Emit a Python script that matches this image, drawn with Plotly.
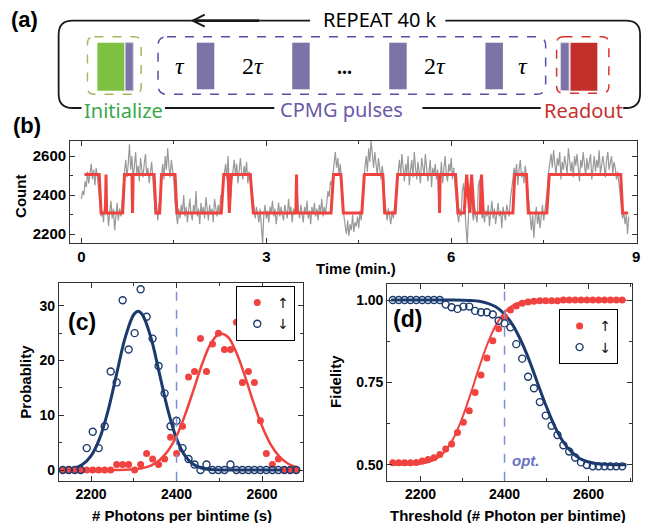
import plotly.graph_objects as go

W, H = 657, 523

# ---------------- data ----------------
# (b) photon-count time trace (gray), sampled every 0.02 min
sample_step_min = 0.02
gray_counts = [
    2380, 2420, 2400, 2470, 2440, 2520, 2460, 2510, 2560, 2480, 2530, 2450, 2540, 2490, 2430,
    2350, 2290, 2320, 2260, 2380, 2300, 2340, 2240, 2310, 2370, 2280, 2330, 2220, 2300, 2360, 2270, 2330, 2290, 2380,
    2450, 2520, 2580, 2490, 2560, 2660, 2530, 2600, 2480, 2570, 2620, 2510, 2550, 2470, 2590, 2530, 2490, 2560, 2610,
    2500, 2540, 2460, 2520, 2570, 2480,
    2370, 2300, 2340, 2270, 2360, 2320,
    2500, 2560, 2480, 2600, 2530, 2640, 2550, 2490, 2580, 2520, 2470,
    2360, 2300, 2250, 2330, 2280, 2350, 2310, 2400, 2290, 2340, 2260, 2320, 2380, 2300, 2270, 2350, 2310, 2420, 2290,
    2330, 2250, 2360, 2300, 2340, 2280, 2390, 2310, 2270, 2350, 2300, 2330, 2260, 2380, 2320, 2290, 2350, 2310, 2400,
    2340,
    2460, 2520, 2560, 2480, 2600, 2420, 2380, 2470, 2540, 2580, 2500, 2560, 2460, 2530, 2590, 2510, 2480, 2550, 2500,
    2570, 2460, 2520, 2490, 2440,
    2380, 2320, 2280, 2340, 2300, 2260, 2330,
    2200, 2150,
    2300, 2350, 2280, 2320, 2260, 2340, 2310, 2370, 2290, 2330, 2250, 2320, 2360, 2290, 2340, 2300, 2270, 2350, 2320,
    2280, 2380, 2310, 2340, 2260, 2330, 2300, 2360,
    2420,
    2330, 2280, 2350, 2310, 2260, 2340, 2300, 2370, 2280, 2320, 2250, 2340, 2300, 2360, 2290, 2330, 2270, 2350, 2310,
    2380, 2290, 2340, 2300, 2360, 2420, 2390, 2470, 2450,
    2520, 2580, 2620, 2540, 2590, 2500, 2560, 2470,
    2350, 2290, 2240, 2200, 2270, 2190, 2250, 2220, 2300, 2210, 2260, 2240, 2290, 2230, 2320, 2270, 2380,
    2480, 2540, 2600, 2520, 2640, 2570, 2680, 2600, 2540, 2620, 2560, 2500, 2590, 2530, 2480, 2550, 2500,
    2380, 2310, 2270, 2330, 2290, 2250, 2320, 2280, 2340, 2400,
    2460, 2520, 2580, 2500, 2610, 2540, 2470, 2560, 2510, 2600, 2450, 2530, 2580, 2490, 2620, 2540, 2480, 2570, 2520,
    2460, 2590, 2530, 2500, 2610, 2550, 2470, 2520, 2580, 2440, 2540, 2500, 2560, 2480, 2530,
    2360,
    2500, 2570, 2460, 2540, 2600, 2510, 2470, 2560, 2520, 2590, 2480, 2540, 2450,
    2380, 2300, 2260, 2330, 2290, 2420, 2460, 2300, 2230, 2150, 2300, 2440, 2470, 2310, 2270, 2330, 2290, 2260, 2450,
    2480, 2340, 2280, 2310,
    2260, 2320, 2290, 2350, 2240, 2310, 2370, 2280, 2330, 2250, 2300, 2360, 2290, 2320, 2230, 2340, 2300, 2270, 2350,
    2310, 2290, 2380, 2420,
    2480, 2540, 2500, 2560, 2450, 2530, 2580, 2490, 2520, 2460, 2550, 2500, 2430,
    2330, 2260, 2220, 2300, 2180, 2280, 2340, 2250, 2310, 2230, 2290, 2350, 2270, 2320, 2380, 2430,
    2520, 2580, 2610, 2540, 2630, 2560, 2500, 2590, 2550, 2620, 2480, 2570, 2530, 2600, 2560, 2510, 2640, 2580, 2520,
    2570, 2490, 2600, 2550, 2610, 2530, 2470, 2580, 2540, 2620, 2560,
    2500, 2590, 2530, 2570, 2610, 2480, 2550, 2600, 2520, 2580, 2540, 2630, 2510, 2570, 2600, 2550, 2490, 2580, 2620,
    2530, 2560, 2600, 2510, 2570, 2540, 2480, 2520, 2460, 2430,
    2340, 2280, 2310, 2250, 2300, 2200, 2290,
]
gray_time = [i * sample_step_min for i in range(len(gray_counts))]

# (b) two-level state assignment (red)
HI, LO = 2505, 2308
red_time = [0.05, 0.29, 0.32, 0.39, 0.40, 0.41, 0.67, 0.70, 0.82, 0.83, 0.84, 1.18, 1.21, 1.27, 1.30,
            1.52, 1.55, 2.27, 2.31, 2.38, 2.40, 2.43, 2.74, 2.79, 3.48, 3.49, 3.50, 4.05, 4.09, 4.21,
            4.25, 4.55, 4.59, 4.89, 4.92, 5.09, 5.13, 5.80, 5.81, 5.82, 6.07, 6.11, 6.21, 6.25, 6.30,
            6.33, 6.37, 6.47, 6.49, 6.52, 7.00, 7.03, 7.22, 7.25, 7.55, 7.59, 8.75, 8.78, 8.87]
red_level = [HI, HI, LO, LO, HI, LO, LO, HI, HI, LO, HI, HI, LO, LO, HI,
             HI, LO, LO, HI, HI, LO, HI, HI, LO, LO, HI, LO, LO, HI, HI,
             LO, LO, HI, HI, LO, LO, HI, HI, LO, HI, HI, LO, LO, HI, LO,
             HI, LO, LO, HI, LO, LO, HI, HI, LO, LO, HI, HI, LO, LO]

# (c) histograms
bins = [2134, 2148, 2162, 2176, 2190, 2204, 2218, 2232, 2246, 2260, 2274, 2288, 2302, 2316, 2330,
        2344, 2358, 2372, 2386, 2400, 2414, 2428, 2442, 2456, 2470, 2484, 2498, 2512, 2526, 2540,
        2554, 2568, 2582, 2596, 2610, 2624, 2638, 2652, 2666, 2680]
prob_up = [0, 0, 0, 0, 0, 0, 0, 0, 0, 1, 1, 1, 0, 1, 3, 2, 1, 2, 6, 3,
           8, 17, 18, 24, 18, 23, 25, 22, 22, 27, 16, 18, 16, 9, 3, 1, 2, 0, 0, 0]
prob_down = [0, 0, 0, 0, 4, 7, 4, 8, 18, 16, 31, 22, 25, 33, 28, 24, 19, 14, 8, 9,
             4, 2, 1, 0, 1, 0, 0, 0, 1, 0, 0, 0, 0, 0, 0, 0, 0, 0, 0, 0]
fit_c_x = [2134, 2160, 2180, 2200, 2220, 2240, 2260, 2280, 2300, 2310, 2320, 2340, 2360, 2380, 2400,
           2420, 2440, 2460, 2480, 2500, 2520, 2540, 2560, 2580, 2600, 2620, 2640, 2660, 2680]
fit_c_down = [0.06, 0.32, 0.99, 2.58, 5.74, 10.9, 17.6, 24.2, 28.4, 29.0, 28.4, 24.2, 17.6, 10.9, 5.74,
              2.58, 0.99, 0.32, 0.09, 0.02, 0, 0, 0, 0, 0, 0, 0, 0, 0]
fit_c_up = [0, 0, 0, 0, 0, 0, 0.01, 0.04, 0.13, 0.21, 0.34, 0.81, 1.77, 3.5, 6.2,
            10.1, 14.7, 19.4, 23.1, 24.9, 24.3, 21.4, 17.1, 12.3, 8.0, 4.7, 2.5, 1.2, 0.53]

# (d) fidelity vs threshold
fid_up = [0.506, 0.506, 0.506, 0.506, 0.507, 0.511, 0.516, 0.521, 0.531, 0.548, 0.563, 0.598, 0.629,
          0.664, 0.719, 0.772, 0.824, 0.876, 0.913, 0.949, 0.970, 0.982, 0.990, 0.994, 0.996, 0.998,
          0.998, 0.998, 0.998, 1.0, 1.0, 1.0, 1.0, 1.0, 1.0, 1.0, 1.0, 1.0, 1.0, 1.0]
fid_down = [1.0, 1.0, 1.0, 1.0, 1.0, 1.0, 1.0, 1.0, 1.0, 0.986, 0.978, 0.973, 0.980, 0.980, 0.967,
            0.963, 0.963, 0.956, 0.937, 0.929, 0.917, 0.866, 0.822, 0.767, 0.732, 0.690, 0.649, 0.618,
            0.590, 0.559, 0.540, 0.522, 0.507, 0.499, 0.495, 0.495, 0.495, 0.495, 0.495, 0.495]
fit_d_x = [2130, 2200, 2220, 2240, 2260, 2280, 2300, 2320, 2340, 2360, 2380, 2400, 2420, 2440, 2460,
           2480, 2500, 2520, 2540, 2560, 2580, 2600, 2620, 2640, 2660, 2690]
fit_d_up = [0.500, 0.503, 0.508, 0.520, 0.543, 0.584, 0.644, 0.718, 0.797, 0.869, 0.925, 0.962, 0.984,
            0.994, 0.998, 0.999, 1.0, 1.0, 1.0, 1.0, 1.0, 1.0, 1.0, 1.0, 1.0, 1.0]
fit_d_down = [1.0, 1.0, 1.0, 1.0, 1.0, 1.0, 0.9995, 0.9985, 0.996, 0.990, 0.979, 0.957, 0.923, 0.874,
              0.813, 0.743, 0.675, 0.615, 0.569, 0.538, 0.518, 0.508, 0.503, 0.501, 0.500, 0.500]
threshold = 2400
label_up = "↑\ufe0e"
label_down = "↓\ufe0e"

# ---------------- styling ----------------
RED = "#f0433f"
BLUE = "#1b3a6e"
DASH = "#7f8ed6"
SANS = "Liberation Sans, Arial, sans-serif"


def px(x):
    return x / W


def py(y):
    return 1 - y / H


def axis(domain, rng, anchor, tsize=14, **kw):
    d = dict(domain=domain, range=rng, anchor=anchor, showline=True, linecolor="#333",
             linewidth=1.3, mirror="allticks", ticks="inside", ticklen=5, tickwidth=1.2,
             tickcolor="#333", showgrid=False, zeroline=False,
             tickfont=dict(family=SANS, size=tsize, color="black", weight="bold"))
    d.update(kw)
    return d


def minor(dt):
    return dict(ticks="inside", ticklen=3, tickwidth=1, tickcolor="#333", dtick=dt, showgrid=False)


fig = go.Figure()

# (b)
fig.add_trace(go.Scatter(x=gray_time, y=gray_counts, mode="lines", line=dict(color="#999999", width=1.2),
                         showlegend=False, xaxis="x", yaxis="y"))
fig.add_trace(go.Scatter(x=red_time, y=red_level, mode="lines", line=dict(color=RED, width=3),
                         showlegend=False, xaxis="x", yaxis="y"))

# (c)
fig.add_trace(go.Scatter(x=fit_c_x, y=fit_c_down, mode="lines", line=dict(color=BLUE, width=3, shape="spline"),
                         showlegend=False, xaxis="x2", yaxis="y2"))
fig.add_trace(go.Scatter(x=fit_c_x, y=fit_c_up, mode="lines", line=dict(color=RED, width=2.5, shape="spline"),
                         showlegend=False, xaxis="x2", yaxis="y2"))
fig.add_trace(go.Scatter(x=bins, y=prob_up, mode="markers", name=label_up,
                         marker=dict(color=RED, size=7, line=dict(width=0)),
                         legend="legend", xaxis="x2", yaxis="y2"))
fig.add_trace(go.Scatter(x=bins, y=prob_down, mode="markers", name=label_down,
                         marker=dict(symbol="circle-open", color=BLUE, size=7, line=dict(width=1.4)),
                         legend="legend", xaxis="x2", yaxis="y2"))

# (d)
fig.add_trace(go.Scatter(x=fit_d_x, y=fit_d_up, mode="lines", line=dict(color=RED, width=2, shape="spline"),
                         showlegend=False, xaxis="x3", yaxis="y3"))
fig.add_trace(go.Scatter(x=fit_d_x, y=fit_d_down, mode="lines", line=dict(color=BLUE, width=3, shape="spline"),
                         showlegend=False, xaxis="x3", yaxis="y3"))
fig.add_trace(go.Scatter(x=bins, y=fid_up, mode="markers", name=label_up,
                         marker=dict(color=RED, size=7, line=dict(width=0)),
                         legend="legend2", xaxis="x3", yaxis="y3"))
fig.add_trace(go.Scatter(x=bins, y=fid_down, mode="markers", name=label_down,
                         marker=dict(symbol="circle-open", color=BLUE, size=7, line=dict(width=1.4)),
                         legend="legend2", xaxis="x3", yaxis="y3"))

shapes = []
ann = []

# threshold lines
for xr, yr in (("x2", "y2 domain"), ("x3", "y3 domain")):
    shapes.append(dict(type="line", xref=xr, yref=yr, x0=threshold, x1=threshold, y0=0, y1=1,
                       line=dict(color=DASH, width=1.5, dash="dash")))


def P(x, y):
    return f"{px(x):.5f},{py(y):.5f}"


def path_shape(d, color, width, dash=None, fill=None):
    s = dict(type="path", xref="paper", yref="paper", path=d, line=dict(color=color, width=width))
    if dash:
        s["line"]["dash"] = dash
    if fill:
        s["fillcolor"] = fill
    return s


def rrect(x0, y0, x1, y1, r):
    return ("M" + P(x0 + r, y0) + " L" + P(x1 - r, y0) + " Q" + P(x1, y0) + " " + P(x1, y0 + r)
            + " L" + P(x1, y1 - r) + " Q" + P(x1, y1) + " " + P(x1 - r, y1)
            + " L" + P(x0 + r, y1) + " Q" + P(x0, y1) + " " + P(x0, y1 - r)
            + " L" + P(x0, y0 + r) + " Q" + P(x0, y0) + " " + P(x0 + r, y0) + " Z")


def rect(x0, y0, x1, y1, fill, line="rgba(0,0,0,0)", lw=0):
    return dict(type="rect", xref="paper", yref="paper", x0=px(x0), x1=px(x1), y0=py(y1), y1=py(y0),
                fillcolor=fill, line=dict(color=line, width=lw))


# (a) frame
FL, FR, FT, FB, R = 59, 644, 20.7, 108, 14
K = "#1a1a1a"
shapes.append(path_shape("M" + P(194, FT) + " L" + P(FL + R, FT) + " Q" + P(FL, FT) + " " + P(FL, FT + R)
                         + " L" + P(FL, FB - R) + " Q" + P(FL, FB) + " " + P(FL + R, FB)
                         + " L" + P(82, FB), K, 1.8))
shapes.append(path_shape("M" + P(448, FT) + " L" + P(FR - R, FT) + " Q" + P(FR, FT) + " " + P(FR, FT + R)
                         + " L" + P(FR, FB - R) + " Q" + P(FR, FB) + " " + P(FR - R, FB)
                         + " L" + P(627, FB), K, 1.8))
shapes.append(path_shape("M" + P(194, FT) + " L" + P(261, FT), K, 2.8))
shapes.append(path_shape("M" + P(261, FT) + " L" + P(312, FT), K, 1.8))
shapes.append(path_shape("M" + P(206, FT - 6) + " L" + P(194, FT) + " L" + P(206, FT + 6), K, 2))
shapes.append(path_shape("M" + P(166, FB) + " L" + P(276, FB), K, 1.8))
shapes.append(path_shape("M" + P(425, FB) + " L" + P(544, FB), K, 1.8))

# (a) boxes
PURP = "#7b74a6"
shapes.append(path_shape(rrect(88, 36.7, 142, 94.3, 7), "#a9b65a", 1.5, dash="dash"))
shapes.append(rect(98, 42.7, 125, 90.7, "#7cc142"))
shapes.append(rect(126, 42.7, 134, 90.7, PURP, "#c9c6dd", 1))
shapes.append(path_shape(rrect(159, 36.7, 549, 94.3, 9), "#5b4ea6", 1.5, dash="dash"))
for x0 in (198, 294, 391.6, 488.4):
    shapes.append(rect(x0, 42.7, x0 + 17.6, 89.3, PURP))
shapes.append(path_shape(rrect(560, 36.7, 612.6, 93.3, 7), "#d8332f", 1.5, dash="dash"))
shapes.append(rect(564, 42.7, 572.6, 90.7, PURP, "#d7d3e6", 1))
shapes.append(rect(574, 42.7, 601, 90.7, "#c3302c"))


def text(x, y, s, size, color="black", family=SANS, weight="normal", style="normal", angle=0):
    ann.append(dict(x=px(x), y=py(y), xref="paper", yref="paper", text=s, showarrow=False,
                    xanchor="center", yanchor="middle", textangle=angle,
                    font=dict(family=family, size=size, color=color, weight=weight, style=style)))


LBL = "Noto Sans, Open Sans, sans-serif"
text(382, 19, "REPEAT 40 k", 20, family=LBL)
text(124, 110, "Initialize", 20, color="#3aa84a", family=LBL)
text(344, 109, "CPMG pulses", 20, color="#6a5aa8", family=LBL)
text(587.5, 110, "Readout", 20, color="#c8302e", family=LBL)
SERIF = "Liberation Serif, Times New Roman, serif"
text(181, 66, "<i>τ</i>", 24, family=SERIF)
text(255, 66, "2<i>τ</i>", 24, family=SERIF)
text(347, 67, "...", 20, family=SERIF, weight="bold")
text(438, 66, "2<i>τ</i>", 24, family=SERIF)
text(526, 66, "<i>τ</i>", 24, family=SERIF)

# panel labels
text(25, 20, "(a)", 22, weight="bold")
text(27, 126, "(b)", 22, weight="bold")
text(83, 322, "(c)", 23, weight="bold")
text(410, 319, "(d)", 23, weight="bold")

# axis titles
text(20, 196, "Count", 15, weight="bold", angle=-90)
text(358, 268, "Time (min.)", 15, weight="bold")
text(25, 382, "Probablity", 15, weight="bold", angle=-90)
text(183, 515, "# Photons per bintime (s)", 15, weight="bold")
text(337, 381, "Fidelity", 15, weight="bold", angle=-90)
text(511, 515, "Threshold (# Photon per bintime)", 15, weight="bold")
ann.append(dict(x=2450, y=0.512, xref="x3", yref="y3", text="opt.", showarrow=False,
                xanchor="center", yanchor="middle",
                font=dict(family=SANS, size=15, color="#6a72c4", weight="bold", style="italic")))

leg = dict(xanchor="left", yanchor="top", bordercolor="black", borderwidth=1, bgcolor="white",
           font=dict(family="DejaVu Sans, Liberation Sans", size=14, color="#111111"), itemwidth=30,
           tracegroupgap=0)

fig.update_layout(
    width=W, height=H, margin=dict(l=0, r=0, t=0, b=0),
    paper_bgcolor="white", plot_bgcolor="rgba(0,0,0,0)",
    xaxis=axis([px(70.7), px(640.7)], [-0.18, 9.01], "y", tsize=15, tick0=0, dtick=3, minor=minor(1.5)),
    yaxis=axis([py(243), py(141)], [2154, 2677], "x", tsize=15, tick0=2200, dtick=200, minor=minor(100)),
    xaxis2=axis([px(59.3), px(305)], [2125, 2696], "y2", tick0=2200, dtick=200, minor=minor(100)),
    yaxis2=axis([py(480.7), py(283.3)], [-1.95, 34.1], "x2", tick0=0, dtick=10, minor=minor(5)),
    xaxis3=axis([px(389.7), px(635.7)], [2121, 2703], "y3", tick0=2200, dtick=200, minor=minor(100)),
    yaxis3=axis([py(480.7), py(284)], [0.4514, 1.0486], "x3", tick0=0.5, dtick=0.25, tickformat=".2f",
                minor=minor(0.125)),
    legend=dict(leg, x=px(237.7), y=py(286)),
    legend2=dict(leg, x=px(562), y=py(309.3)),
    shapes=shapes, annotations=ann,
)

fig.write_html("out.html", config={"displayModeBar": False},
               post_script="document.body.style.margin='0px';")
